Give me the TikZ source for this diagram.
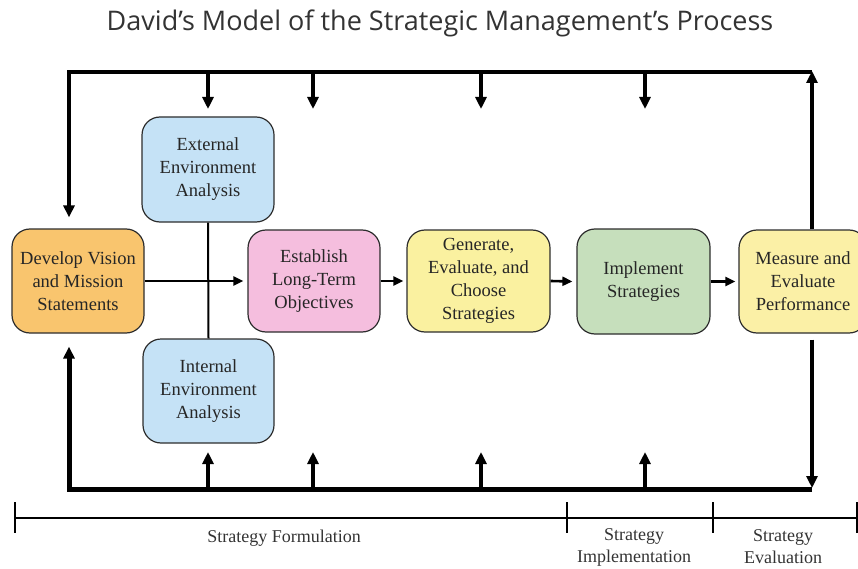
\documentclass[tikz,border=0pt]{standalone}
\usepackage{fontspec}
\setmainfont{Liberation Serif}
\newfontfamily\titlefont{Open Sans}
\usetikzlibrary{arrows.meta}
\definecolor{orangeC}{RGB}{249,197,110}
\definecolor{blueC}{RGB}{197,226,246}
\definecolor{pinkC}{RGB}{245,190,222}
\definecolor{yellowC}{RGB}{250,241,160}
\definecolor{greenC}{RGB}{198,223,188}
\definecolor{measC}{RGB}{251,240,166}
\definecolor{edgeC}{RGB}{45,45,45}
\begin{document}
\begin{tikzpicture}[x=1pt,y=-1pt,
  box/.style={draw=edgeC, line width=1.2pt, rounded corners=18pt, align=center, inner sep=0pt,
    font=\rmfamily\fontsize{18.5}{23}\selectfont, text=black!85},
  fb/.style={line width=4pt, -{Triangle[length=12pt,width=11pt]}},
  link/.style={line width=2.6pt, -{Triangle[length=10pt,width=9pt]}},
  tick/.style={line width=1.2pt},
  lbl/.style={font=\rmfamily\fontsize{18}{22}\selectfont, text=black!80, align=center, inner sep=1pt}]
\useasboundingbox (0,0) rectangle (858,569);
\begin{scope}
\clip (0,0) rectangle (858,569);
\node[font=\titlefont\fontsize{27}{32}\selectfont, text=black!80] (title) at (440,23) {David’s Model of the Strategic Management’s Process};

\node[box, fill=orangeC, minimum width=132pt, minimum height=104pt] (dev) at (78,281) {Develop Vision\\and Mission\\Statements};
\node[box, fill=blueC, minimum width=132pt, minimum height=105pt] (ext) at (208,169.5) {External\\Environment\\Analysis};
\node[box, fill=blueC, minimum width=131pt, minimum height=104pt] (int) at (208.5,391) {Internal\\Environment\\Analysis};
\node[box, fill=pinkC, minimum width=132pt, minimum height=102pt] (est) at (314,281) {Establish\\Long-Term\\Objectives};
\node[box, fill=yellowC, minimum width=143pt, minimum height=102pt] (gen) at (478.5,281) {Generate,\\Evaluate, and\\Choose\\Strategies};
\node[box, fill=greenC, minimum width=133pt, minimum height=105pt] (imp) at (643.5,281.5) {Implement\\Strategies};
\node[box, fill=measC, minimum width=128pt, minimum height=103pt] (mea) at (803,281.5) {Measure and\\Evaluate\\Performance};

% feedback frame corners
\coordinate (tl) at (69,72);
\coordinate (tr) at (812,72);
\coordinate (bl) at (69,489);
\coordinate (br) at (812,489);
% arrow tips on the frame
\coordinate (t1) at (208,109);
\coordinate (t2) at (313,109);
\coordinate (t3) at (481,109);
\coordinate (t4) at (645,109);
\coordinate (b1) at (208,452);
\coordinate (b2) at (313,452);
\coordinate (b3) at (481,452);
\coordinate (b4) at (645,452);

\draw[fb] (tr) -- (tl) -- ([yshift=11pt]dev.north -| tl);
\draw[fb, line width=5pt] (br) -- (bl) -- ([yshift=-13pt]dev.south -| bl);
\draw[fb] (mea.north -| tr) -- ([yshift=1pt]tr);
\draw[fb] ([yshift=-6pt]mea.south -| br) -- ([yshift=1pt]br);

\foreach \c in {t1,t2,t3,t4} \draw[fb] (\c |- tl) -- (\c);
\foreach \c in {b1,b2,b3,b4} \draw[fb] (\c |- bl) -- (\c);

% main flow
\draw[line width=2pt] (ext.south) -- (int.north);
\draw[link] (dev.east) -- ([xshift=-4pt]est.west);
\draw[link] (est.east) -- ([xshift=-3pt]gen.west);
\draw[link] (gen.east) -- ([xshift=-4pt]imp.west);
\draw[link] (imp.east) -- ([xshift=-3pt]mea.west);

% timeline
\coordinate (s0) at (15,518);
\coordinate (s1) at (567,518);
\coordinate (s2) at (713,518);
\coordinate (s3) at (857,518);
\draw[tick] (s0) -- (s3);
\foreach \c in {s0,s1,s2,s3} \draw[tick] ([yshift=16pt]\c) -- ([yshift=-15pt]\c);

\node[lbl] (form) at (284,538) {Strategy Formulation};
\node[lbl] (impl) at (634,547) {Strategy\\Implementation};
\node[lbl] (eval) at (783,547) {Strategy\\Evaluation};
\end{scope}
\end{tikzpicture}
\end{document}
